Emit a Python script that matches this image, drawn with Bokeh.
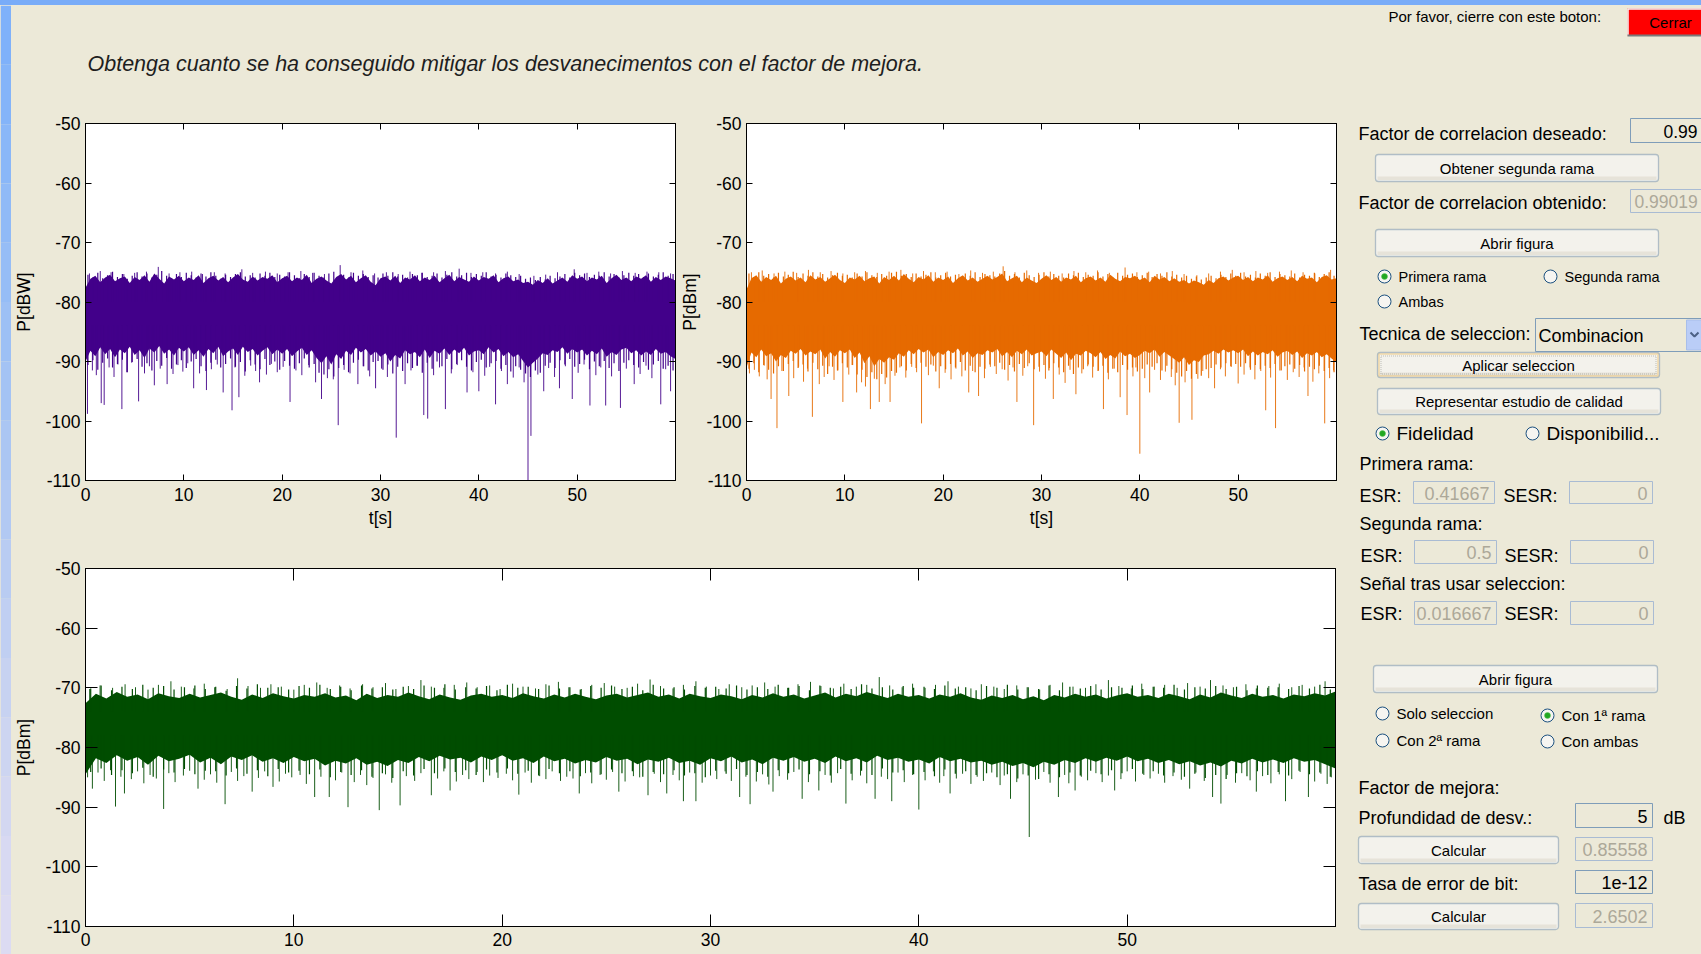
from bokeh.plotting import figure
from bokeh.models import Range1d, FixedTicker, LinearAxis, BoxAnnotation, Div
from bokeh.layouts import row, column
from bokeh.embed import file_html
from bokeh.resources import INLINE
from bokeh.core.properties import value

BG = "#ECE9D8"
FONT = "Liberation Sans"

# ------------------------------------------------------------------ data
x_ticks = [0, 10, 20, 30, 40, 50]
y_ticks = [-110, -100, -90, -80, -70, -60, -50]
t_env = [i / 2 for i in range(121)]          # envelope sample instants, s
t_hair = [0.25 + i / 2 for i in range(120)]  # short fades/peaks between envelope samples, s

# first branch (purple), P[dBW]: upper edge and lower edge of the dense band
purple_top = [-77.6, -76.1, -75.6, -76.7, -75.9, -75.4, -76.5, -76.0, -75.7, -76.8,
              -75.8, -76.3, -75.5, -76.6, -75.2, -76.1, -76.9, -75.7, -76.2, -75.6,
              -76.5, -75.9, -76.3, -75.5, -76.8, -76.0, -75.6, -76.4, -75.8, -76.7,
              -75.9, -75.3, -76.2, -76.6, -75.7, -76.4, -75.8, -76.1, -75.5, -76.7,
              -76.0, -75.6, -76.5, -75.9, -76.3, -75.4, -76.8, -76.1, -75.7, -76.4,
              -76.9, -75.8, -75.3, -76.2, -75.6, -76.7, -76.0, -75.5, -76.6, -77.2,
              -76.0, -75.7, -76.4, -75.6, -76.8, -75.9, -76.2, -75.5, -76.5, -75.9,
              -76.3, -75.6, -76.7, -76.0, -75.4, -76.5, -75.8, -76.2, -76.6, -75.7,
              -76.4, -75.8, -76.1, -75.5, -76.7, -76.0, -75.7, -76.5, -76.2, -76.8,
              -76.6, -77.1, -76.3, -76.8, -76.0, -76.9, -76.4, -75.9, -76.6, -75.5,
              -76.1, -75.7, -76.5, -75.9, -76.2, -75.6, -76.8, -76.0, -75.4, -76.3,
              -75.9, -76.5, -75.7, -76.1, -75.5, -76.6, -75.8, -76.3, -75.7, -76.0,
              -76.4]
purple_core = [-90.0, -88.2, -89.1, -87.6, -88.8, -87.9, -89.3, -88.0, -88.6, -87.5,
               -88.9, -88.1, -89.4, -87.8, -88.5, -87.4, -88.7, -88.0, -89.0, -87.7,
               -88.3, -87.6, -88.9, -88.1, -89.2, -87.9, -88.6, -87.5, -89.1, -88.3,
               -87.8, -88.9, -87.5, -88.4, -87.9, -89.0, -88.2, -87.6, -88.8, -88.0,
               -88.7, -87.9, -89.1, -88.3, -87.7, -88.9, -88.1, -89.4, -90.3, -89.1,
               -90.5, -88.8, -89.6, -88.2, -88.9, -87.7, -88.5, -87.9, -89.0, -88.3,
               -89.2, -88.6, -90.0, -88.9, -89.5, -88.1, -88.8, -88.4, -89.3, -88.0,
               -89.4, -88.2, -88.7, -87.8, -88.9, -88.0, -88.6, -87.7, -89.0, -88.3,
               -88.1, -88.8, -87.6, -88.5, -87.9, -89.1, -88.4, -89.3, -88.8, -89.9,
               -91.0, -90.2, -89.5, -88.6, -88.9, -88.1, -88.4, -87.6, -88.7, -87.9,
               -88.5, -88.0, -89.0, -88.2, -88.8, -87.8, -89.2, -88.4, -88.9, -88.0,
               -87.7, -88.6, -88.1, -89.0, -88.3, -88.9, -87.9, -88.7, -88.4, -89.1,
               -89.6]
purple_hair_up = [-75.4, -75.9, -75.1, -76.0, -75.5, -74.9, -75.8, -75.3, -76.1, -75.6,
                  -75.0, -75.7, -75.2, -75.9, -75.4, -74.8, -75.6, -76.0, -75.3, -75.8,
                  -75.1, -75.5, -75.9, -75.2, -75.7, -75.0, -75.6, -76.1, -75.4, -75.8,
                  -75.3, -75.0, -75.7, -75.5, -75.9, -75.2, -75.6, -75.1, -75.8, -75.4,
                  -75.7, -75.0, -75.5, -76.0, -75.3, -75.8, -75.1, -75.6, -75.9, -75.2,
                  -74.9, -75.7, -75.4, -75.9, -75.1, -75.6, -75.3, -75.8, -75.5, -75.9,
                  -75.2, -75.6, -75.0, -75.7, -75.4, -75.9, -75.3, -75.5, -75.1, -75.8,
                  -75.6, -75.2, -75.9, -75.4, -75.0, -75.7, -75.5, -75.1, -75.8, -75.3,
                  -75.6, -75.0, -75.7, -75.4, -75.9, -75.2, -75.5, -75.8, -75.6, -76.1,
                  -75.9, -76.3, -75.8, -76.2, -75.6, -76.0, -75.7, -75.3, -75.9, -75.1,
                  -75.5, -75.2, -75.8, -75.4, -75.6, -75.0, -75.7, -75.3, -75.9, -75.5,
                  -75.1, -75.6, -75.3, -75.8, -75.2, -75.7, -75.4, -75.0, -75.6, -75.3]
purple_hair_dn = [-90.6, -89.8, -91.4, -90.2, -89.5, -91.0, -90.4, -89.7, -91.8, -90.1,
                  -89.6, -90.9, -90.3, -91.5, -89.9, -90.7, -89.4, -91.2, -90.5, -89.8,
                  -91.1, -90.0, -89.6, -90.8, -91.6, -90.2, -89.7, -91.0, -90.4, -89.5,
                  -90.9, -90.1, -91.7, -89.8, -90.5, -91.3, -89.6, -90.6, -90.0, -91.4,
                  -89.9, -90.7, -91.2, -90.3, -89.5, -91.0, -90.4, -91.9, -92.2, -91.3,
                  -92.5, -91.1, -90.6, -91.8, -90.2, -89.7, -90.8, -91.5, -90.1, -89.9,
                  -91.4, -90.5, -92.0, -90.9, -91.6, -90.3, -91.1, -90.7, -91.9, -90.2,
                  -91.2, -90.0, -90.8, -89.6, -91.3, -90.4, -89.8, -90.9, -91.5, -90.1,
                  -89.7, -91.0, -90.3, -89.9, -91.2, -90.6, -91.7, -90.8, -91.4, -92.0,
                  -92.6, -91.5, -91.9, -90.7, -90.2, -91.1, -89.8, -90.5, -89.6, -90.9,
                  -90.4, -89.7, -91.3, -90.0, -90.8, -89.9, -91.1, -90.3, -91.6, -90.2,
                  -89.8, -90.6, -91.0, -90.1, -91.4, -90.5, -89.9, -91.2, -90.7, -91.5]
purple_peaks = [(0.4, -75.2), (1.5, -74.8), (2.6, -75.0), (3.9, -75.3), (5.0, -75.1), (6.2, -74.9), (7.4, -74.1),
                (8.5, -75.2), (9.6, -75.0), (10.8, -74.9), (11.9, -75.3), (13.1, -75.0), (14.2, -75.2), (15.9, -74.5),
                (17.0, -75.1), (18.3, -74.9), (19.5, -75.2), (20.6, -75.0), (21.9, -74.8), (23.1, -75.1), (24.3, -75.3),
                (25.9, -73.8), (27.0, -75.0), (28.2, -74.7), (29.4, -75.2), (30.6, -75.0), (31.8, -75.3), (33.0, -74.9),
                (34.2, -75.1), (35.4, -75.0), (36.6, -74.8), (38.0, -74.4), (39.2, -75.1), (40.4, -75.0), (41.7, -75.2),
                (42.9, -74.9), (44.1, -75.3), (45.6, -75.6), (46.8, -75.4), (48.0, -75.0), (49.7, -74.5), (51.0, -75.1),
                (52.2, -74.9), (53.4, -75.2), (54.6, -74.8), (55.9, -75.1), (57.1, -74.9), (58.3, -75.0), (59.5, -75.2)]
purple_dips = [(0.2, -98.8), (0.7, -91.5), (1.1, -92.3), (1.6, -97.0), (1.9, -97.3), (2.4, -91.0), (2.9, -92.6),
               (3.3, -90.5), (3.7, -98.0), (4.2, -91.8), (4.7, -90.2), (5.4, -96.7), (6.0, -92.0), (6.5, -90.8),
               (7.0, -94.0), (7.6, -91.2), (8.3, -93.8), (8.9, -92.1), (9.4, -90.6), (9.9, -91.7), (10.4, -90.3),
               (11.0, -94.5), (11.6, -92.0), (12.3, -94.8), (12.8, -91.3), (13.4, -90.5), (14.0, -95.2), (14.9, -98.2),
               (15.2, -91.0), (15.6, -96.0), (16.2, -92.4), (16.8, -90.7), (17.3, -91.6), (17.7, -93.5), (18.4, -92.2),
               (18.9, -90.4), (19.5, -91.8), (20.1, -90.9), (20.8, -96.8), (21.4, -91.5), (22.0, -92.3), (22.7, -90.6),
               (23.4, -93.5), (24.0, -96.3), (24.6, -92.8), (25.2, -93.0), (25.7, -100.7), (26.3, -91.4), (26.9, -92.0),
               (27.7, -93.8), (28.3, -90.8), (28.9, -92.5), (29.5, -94.5), (30.1, -91.2), (30.7, -92.6), (31.6, -102.8),
               (32.5, -93.8), (33.1, -91.5), (33.7, -90.7), (34.4, -99.0), (34.8, -99.6), (35.4, -92.3), (36.0, -91.0),
               (36.6, -98.0), (37.2, -92.0), (37.8, -90.6), (38.8, -95.2), (39.4, -91.8), (40.0, -95.0), (40.6, -92.4),
               (41.1, -90.9), (41.7, -97.2), (42.3, -91.6), (42.9, -93.8), (43.5, -92.7), (44.1, -91.0), (44.6, -93.5),
               (45.0, -110.0), (45.3, -102.5), (46.0, -92.2), (46.6, -95.0), (47.1, -91.1), (47.7, -92.6), (48.2, -94.5),
               (48.8, -90.8), (49.5, -96.3), (50.1, -91.9), (50.7, -90.5), (51.3, -97.4), (51.9, -92.3), (52.4, -91.0),
               (52.9, -97.4), (53.5, -92.5), (54.4, -97.8), (55.0, -91.2), (55.8, -93.8), (56.4, -92.1), (57.0, -90.7),
               (57.6, -92.8), (58.5, -97.2), (59.0, -91.3), (59.5, -95.0)]

# second branch (orange), P[dBm]
orange_top = [-77.9, -76.0, -75.5, -76.6, -75.8, -76.3, -75.6, -76.9, -76.1, -75.7,
              -76.4, -75.9, -76.7, -75.5, -76.2, -75.8, -76.6, -76.0, -75.4, -76.3,
              -76.8, -75.9, -76.2, -75.6, -76.5, -76.0, -75.7, -76.9, -75.8, -76.3,
              -75.6, -76.4, -75.3, -76.1, -76.7, -75.8, -76.2, -75.5, -76.6, -75.9,
              -76.3, -75.7, -76.8, -76.0, -75.5, -76.4, -75.9, -76.6, -76.1, -75.6,
              -76.2, -75.8, -75.2, -76.5, -76.0, -75.6, -76.7, -75.9, -76.4, -76.8,
              -76.1, -75.5, -76.3, -75.8, -76.6, -75.9, -76.2, -75.6, -76.7, -76.0,
              -75.7, -76.4, -75.9, -76.6, -75.4, -76.1, -76.5, -75.8, -76.0, -75.6,
              -76.3, -75.9, -76.7, -75.6, -76.2, -75.8, -76.5, -76.0, -76.6, -76.3,
              -76.9, -76.4, -76.7, -77.1, -76.3, -76.8, -76.0, -75.7, -76.4, -75.9,
              -75.6, -76.3, -75.8, -76.5, -75.9, -76.2, -75.5, -76.6, -76.0, -75.7,
              -76.3, -75.8, -76.5, -75.6, -76.1, -75.9, -76.7, -75.8, -75.5, -76.2,
              -76.0]
orange_core = [-91.0, -88.5, -89.3, -88.0, -89.1, -88.6, -90.0, -88.9, -89.4, -88.2,
               -88.7, -87.9, -89.0, -88.3, -88.8, -88.0, -89.5, -88.4, -89.2, -88.1,
               -88.6, -88.0, -89.4, -88.5, -90.3, -89.1, -90.8, -89.6, -90.2, -89.3,
               -89.7, -88.6, -89.2, -88.1, -88.8, -87.9, -88.5, -88.0, -89.3, -88.4,
               -88.9, -88.1, -88.6, -87.8, -89.0, -88.3, -89.4, -88.6, -88.9, -88.1,
               -88.5, -87.9, -89.1, -88.4, -89.3, -88.2, -88.8, -88.0, -89.0, -88.6,
               -88.3, -89.1, -88.0, -88.7, -89.4, -88.5, -89.8, -88.7, -89.0, -88.2,
               -88.6, -89.3, -88.4, -89.6, -88.9, -89.5, -88.3, -89.1, -88.7, -89.4,
               -88.9, -88.2, -88.6, -88.0, -89.2, -88.4, -89.0, -89.6, -90.2, -89.3,
               -90.6, -89.8, -90.1, -89.0, -88.8, -88.2, -88.7, -88.0, -88.5, -88.1,
               -88.6, -88.0, -89.1, -88.3, -89.0, -88.4, -88.8, -88.1, -89.2, -88.5,
               -88.2, -88.9, -88.3, -89.4, -88.6, -89.0, -88.4, -89.3, -88.8, -89.5,
               -90.2]
orange_hair_up = [-75.2, -75.8, -75.0, -75.6, -75.3, -75.9, -75.1, -75.7, -75.4, -74.9,
                  -75.8, -75.2, -75.6, -75.0, -75.7, -75.3, -75.9, -75.5, -75.1, -75.6,
                  -75.4, -75.9, -75.2, -75.7, -75.0, -75.5, -75.8, -75.3, -75.6, -75.1,
                  -74.9, -75.6, -75.3, -75.8, -75.2, -75.7, -75.4, -75.0, -75.9, -75.5,
                  -75.1, -75.7, -75.4, -75.9, -75.2, -75.6, -75.0, -75.8, -75.3, -75.5,
                  -75.7, -75.2, -74.8, -75.6, -75.3, -75.9, -75.1, -75.5, -75.8, -75.4,
                  -75.0, -75.7, -75.3, -75.6, -75.9, -75.2, -75.5, -75.1, -75.8, -75.4,
                  -75.6, -75.0, -75.7, -75.3, -75.9, -75.1, -75.6, -75.4, -75.2, -75.8,
                  -75.5, -75.1, -75.8, -75.3, -75.6, -75.0, -75.7, -75.4, -75.9, -75.6,
                  -76.1, -75.7, -76.2, -75.9, -75.6, -76.0, -75.4, -75.8, -75.2, -75.6,
                  -75.1, -75.7, -75.4, -75.9, -75.2, -75.6, -75.0, -75.8, -75.3, -75.5,
                  -75.7, -75.2, -75.9, -75.4, -75.6, -75.1, -75.8, -75.3, -75.0, -75.6]
orange_hair_dn = [-91.2, -90.3, -91.8, -90.6, -91.4, -92.0, -90.8, -91.6, -90.4, -89.9,
                  -91.1, -90.5, -91.7, -90.2, -91.3, -90.7, -92.1, -90.9, -91.5, -90.3,
                  -91.0, -90.6, -92.2, -91.4, -92.6, -91.8, -93.0, -92.1, -92.7, -91.6,
                  -91.9, -90.8, -91.5, -90.4, -91.1, -90.2, -90.9, -90.5, -91.7, -90.8,
                  -91.3, -90.4, -91.0, -90.1, -91.5, -90.7, -91.8, -90.9, -91.2, -90.5,
                  -90.8, -90.2, -91.4, -90.6, -91.7, -90.4, -91.1, -90.3, -91.3, -90.9,
                  -90.6, -91.5, -90.3, -91.0, -91.8, -90.7, -92.1, -91.0, -91.3, -90.5,
                  -90.9, -91.6, -90.7, -91.9, -91.2, -91.8, -90.6, -91.4, -91.0, -91.7,
                  -91.2, -90.5, -90.9, -90.3, -91.5, -90.7, -91.3, -91.9, -92.5, -91.6,
                  -92.9, -92.1, -92.4, -91.3, -91.1, -90.5, -91.0, -90.3, -90.8, -90.4,
                  -90.9, -90.3, -91.4, -90.6, -91.3, -90.7, -91.1, -90.4, -91.5, -90.8,
                  -90.5, -91.2, -90.6, -91.7, -90.9, -91.3, -90.7, -91.6, -91.1, -91.8]
orange_peaks = [(0.5, -75.0), (1.6, -74.7), (2.8, -75.2), (3.9, -74.9), (5.1, -75.1), (6.3, -74.6), (7.5, -75.0),
                (8.6, -74.8), (9.8, -75.2), (11.0, -75.0), (12.1, -74.8), (13.3, -75.1), (14.5, -74.9), (15.7, -74.6),
                (16.9, -75.2), (18.0, -74.8), (19.2, -75.0), (20.4, -74.9), (21.6, -75.3), (22.8, -74.7), (24.0, -75.1),
                (25.1, -74.9), (26.1, -74.0), (27.3, -75.0), (28.5, -74.7), (29.7, -75.1), (30.9, -74.9), (32.1, -75.2),
                (33.3, -74.8), (34.5, -75.0), (35.7, -74.7), (36.9, -75.1), (38.5, -74.2), (39.7, -75.0), (40.9, -74.9),
                (42.1, -75.2), (43.3, -74.8), (44.5, -75.3), (45.8, -75.5), (47.0, -75.2), (48.2, -74.9), (49.4, -74.6),
                (50.6, -75.0), (51.8, -74.8), (53.0, -75.1), (54.2, -74.9), (55.4, -74.7), (56.6, -75.0), (57.8, -75.2),
                (59.4, -74.6)]
orange_dips = [(0.3, -92.0), (0.8, -91.4), (1.3, -92.5), (1.8, -90.7), (2.1, -93.0), (2.5, -96.3), (3.1, -101.2),
               (3.6, -91.6), (4.3, -95.8), (4.8, -92.8), (5.3, -90.9), (5.8, -93.4), (6.2, -91.2), (6.7, -99.3),
               (7.4, -93.8), (7.9, -92.6), (8.4, -90.8), (8.9, -93.1), (9.3, -91.5), (9.8, -96.8), (10.4, -92.2),
               (10.8, -90.6), (11.2, -95.2), (11.7, -93.5), (12.1, -94.2), (12.6, -98.0), (13.0, -92.9), (13.5, -96.8),
               (14.1, -93.8), (14.6, -96.8), (15.1, -92.4), (15.6, -91.0), (16.2, -92.7), (16.8, -90.9), (17.3, -91.8),
               (17.8, -100.4), (18.5, -92.3), (19.0, -90.7), (19.6, -94.5), (20.2, -91.9), (20.8, -93.0), (21.3, -91.2),
               (21.9, -92.5), (22.6, -95.2), (23.0, -91.6), (23.6, -95.8), (24.2, -92.8), (24.8, -90.9), (25.4, -92.1),
               (26.0, -91.3), (26.6, -93.2), (27.1, -91.0), (27.5, -96.8), (28.1, -92.4), (28.6, -90.8), (29.2, -100.7),
               (29.8, -91.7), (30.4, -92.9), (30.8, -91.1), (31.2, -96.3), (31.8, -92.2), (32.4, -93.6), (32.9, -91.4),
               (33.5, -95.5), (34.1, -92.0), (34.7, -90.8), (35.2, -92.7), (35.8, -91.5), (36.3, -98.0), (36.8, -93.0),
               (37.4, -91.2), (38.0, -96.0), (38.7, -99.0), (39.3, -92.5), (39.6, -91.0), (40.0, -105.5), (40.5, -92.8),
               (41.0, -95.2), (41.5, -91.4), (42.1, -93.1), (42.6, -91.7), (43.2, -92.6), (43.6, -94.0), (44.0, -100.3),
               (44.6, -93.5), (45.3, -99.8), (45.9, -92.9), (46.4, -91.6), (47.0, -92.8), (47.6, -94.5), (48.2, -91.3),
               (48.7, -92.5), (49.3, -90.9), (50.0, -93.7), (50.6, -92.2), (51.2, -91.0), (51.7, -93.0), (52.3, -91.6),
               (52.8, -98.2), (53.3, -92.7), (53.8, -101.2), (54.4, -91.5), (55.0, -93.1), (55.6, -91.8), (56.2, -92.6),
               (56.7, -91.0), (57.1, -95.8), (57.6, -93.4), (58.2, -92.0), (58.8, -100.4), (59.3, -92.8), (59.7, -91.5)]

# signal after selection (green), P[dBm]
green_top = [-72.6, -71.0, -71.8, -70.7, -71.5, -71.1, -71.9, -70.9, -71.4, -71.7,
             -71.0, -71.6, -71.2, -70.8, -71.5, -72.0, -71.1, -71.7, -70.9, -71.4,
             -71.8, -71.2, -71.5, -70.9, -71.6, -71.3, -72.1, -71.0, -71.7, -71.2,
             -71.5, -70.8, -71.4, -71.9, -71.1, -71.6, -72.0, -71.3, -71.0, -71.5,
             -71.2, -71.7, -70.9, -71.4, -71.8, -71.1, -71.6, -71.0, -71.5, -71.9,
             -71.3, -71.0, -71.6, -71.2, -70.8, -71.5, -71.1, -71.8, -71.0, -71.4,
             -71.7, -71.1, -71.4, -71.9, -71.2, -71.6, -70.9, -71.5, -71.1, -71.8,
             -71.3, -70.8, -71.6, -71.0, -71.4, -70.7, -71.2, -71.7, -71.0, -71.5,
             -71.2, -71.8, -71.1, -71.5, -70.9, -71.6, -72.0, -71.3, -71.7, -71.2,
             -71.9, -71.4, -72.1, -71.2, -71.6, -71.0, -71.5, -71.1, -71.8, -71.3,
             -70.9, -71.5, -71.2, -71.7, -71.0, -71.4, -71.9, -71.1, -71.6, -70.8,
             -71.3, -71.7, -71.0, -71.5, -71.2, -71.8, -71.1, -71.4, -70.9, -71.3,
             -70.6]
green_core = [-84.5, -81.8, -82.6, -81.3, -82.2, -81.6, -82.9, -81.4, -82.3, -81.9,
              -81.2, -82.5, -81.7, -82.8, -81.5, -82.1, -81.3, -82.4, -81.8, -82.6,
              -81.6, -82.3, -81.9, -83.0, -82.2, -82.7, -81.8, -82.9, -82.4, -83.1,
              -82.1, -82.6, -81.6, -82.3, -81.4, -82.0, -81.7, -82.5, -81.5, -82.1,
              -81.3, -82.2, -81.8, -82.6, -81.5, -82.3, -81.9, -82.7, -82.1, -82.5,
              -81.6, -82.2, -81.9, -82.8, -82.0, -82.4, -81.7, -82.6, -82.2, -82.9,
              -81.8, -82.3, -81.5, -82.5, -82.0, -82.8, -81.7, -82.2, -81.6, -82.4,
              -81.9, -82.6, -81.5, -82.3, -81.8, -82.5, -81.4, -82.1, -81.7, -82.4,
              -82.0, -82.7, -81.6, -82.3, -81.9, -82.5, -82.2, -82.9, -82.4, -83.1,
              -82.6, -83.3, -82.4, -82.9, -82.1, -82.6, -81.8, -82.4, -81.7, -82.2,
              -81.5, -82.3, -81.9, -82.6, -82.1, -82.8, -82.3, -83.0, -82.5, -83.2,
              -82.2, -82.7, -81.9, -82.5, -82.0, -82.6, -81.8, -82.4, -82.1, -82.8,
              -83.5]
green_hair_up = [-70.1, -69.6, -70.4, -69.8, -70.2, -69.5, -70.0, -69.7, -70.3, -69.9,
                 -69.6, -70.2, -69.8, -70.5, -69.7, -70.1, -69.4, -70.0, -69.9, -70.3,
                 -69.7, -70.0, -69.5, -70.2, -69.8, -70.4, -69.6, -70.1, -69.9, -70.3,
                 -69.8, -70.2, -69.6, -70.0, -69.4, -70.3, -69.9, -70.1, -69.7, -70.4,
                 -69.5, -70.0, -69.8, -70.2, -69.6, -70.1, -69.9, -70.3, -69.7, -70.0,
                 -69.6, -70.2, -69.8, -70.4, -69.5, -70.1, -69.9, -70.3, -69.7, -70.0,
                 -69.8, -70.1, -69.6, -70.3, -69.9, -70.2, -69.5, -70.0, -69.7, -70.4,
                 -69.6, -70.0, -69.8, -70.2, -69.4, -70.1, -69.9, -70.3, -69.7, -70.0,
                 -69.8, -70.2, -69.6, -70.1, -69.9, -70.4, -69.7, -70.0, -69.5, -70.3,
                 -69.9, -70.2, -69.6, -70.4, -69.8, -70.1, -69.7, -70.3, -69.9, -70.0,
                 -69.6, -70.2, -69.8, -70.0, -69.5, -70.3, -69.9, -70.1, -69.7, -70.2,
                 -69.8, -70.4, -69.6, -70.0, -69.9, -70.2, -69.7, -70.1, -69.5, -70.3]
green_hair_dn = [-84.1, -83.5, -84.6, -83.8, -84.3, -83.4, -84.9, -83.7, -84.2, -83.6,
                 -84.5, -83.9, -84.0, -84.7, -83.5, -84.4, -83.8, -84.8, -83.6, -84.2,
                 -83.9, -84.5, -83.7, -85.0, -84.1, -84.6, -83.8, -84.9, -84.3, -85.1,
                 -84.0, -84.7, -83.6, -84.3, -83.5, -84.1, -83.8, -84.6, -83.7, -84.2,
                 -83.5, -84.4, -83.9, -84.7, -83.6, -84.3, -84.0, -84.8, -84.2, -84.5,
                 -83.7, -84.3, -84.0, -84.9, -84.1, -84.5, -83.8, -84.7, -84.3, -85.0,
                 -83.9, -84.4, -83.6, -84.6, -84.1, -84.9, -83.8, -84.3, -83.7, -84.5,
                 -84.0, -84.7, -83.6, -84.4, -83.9, -84.6, -83.5, -84.2, -83.8, -84.5,
                 -84.1, -84.8, -83.7, -84.4, -84.0, -84.6, -84.3, -85.0, -84.5, -85.2,
                 -84.7, -85.3, -84.5, -85.0, -84.2, -84.7, -83.9, -84.5, -83.8, -84.3,
                 -83.6, -84.4, -84.0, -84.7, -84.2, -84.9, -84.4, -85.1, -84.6, -85.3,
                 -84.3, -84.8, -84.0, -84.6, -84.1, -84.7, -83.9, -84.5, -84.2, -84.9]
green_peaks = [(0.2, -70.2), (0.7, -69.6), (1.3, -70.0), (1.9, -69.4), (2.4, -69.9), (3.0, -70.3), (3.5, -69.5),
               (4.1, -68.9), (4.6, -69.8), (5.2, -70.1), (5.7, -69.3), (6.2, -69.9), (6.8, -70.2), (7.3, -68.4),
               (7.8, -69.7), (8.4, -70.0), (8.9, -69.4), (9.4, -69.8), (10.0, -70.3), (10.5, -69.5), (11.1, -69.1),
               (11.6, -70.0), (12.2, -69.6), (12.7, -70.1), (13.3, -69.4), (13.8, -69.9), (14.4, -69.2), (14.9, -70.2),
               (15.5, -69.7), (16.1, -68.7), (16.6, -69.8), (17.2, -70.0), (17.7, -69.5), (18.3, -69.1), (18.8, -69.9),
               (19.4, -69.6), (19.9, -70.2), (20.5, -69.3), (21.0, -69.8), (21.6, -70.1), (22.1, -69.4), (22.7, -69.0),
               (23.2, -69.9), (23.8, -70.2), (24.3, -69.5), (24.9, -69.2), (25.4, -69.8), (26.0, -70.0), (26.5, -69.3),
               (27.1, -68.6), (27.6, -69.7), (28.2, -70.1), (28.7, -69.5), (29.3, -68.9), (29.8, -69.8), (30.4, -70.2),
               (30.9, -69.4), (31.5, -69.9), (32.0, -69.6), (32.6, -69.1), (33.1, -69.8), (33.7, -70.0), (34.2, -69.4),
               (34.8, -69.0), (35.3, -69.7), (35.9, -70.1), (36.4, -69.3), (37.0, -69.8), (37.5, -69.5), (38.1, -68.2),
               (38.6, -69.6), (39.2, -69.9), (39.7, -69.3), (40.3, -70.0), (40.8, -69.5), (41.4, -68.9), (41.9, -69.8),
               (42.5, -70.1), (43.0, -69.4), (43.6, -69.8), (44.1, -70.2), (44.7, -69.6), (45.2, -69.9), (45.8, -70.3),
               (46.3, -69.5), (46.9, -69.1), (47.4, -69.8), (48.0, -70.0), (48.5, -69.4), (49.1, -68.7), (49.6, -69.7),
               (50.2, -70.1), (50.7, -69.3), (51.3, -69.8), (51.8, -69.5), (52.4, -70.0), (52.9, -69.2), (53.5, -69.8),
               (54.0, -68.7), (54.6, -69.6), (55.1, -69.9), (55.7, -69.4), (56.2, -70.1), (56.8, -69.7), (57.3, -69.3),
               (57.9, -69.9), (58.4, -69.5), (59.0, -69.8), (59.5, -68.9)]
green_dips = [(0.1, -85.0), (0.33, -86.9), (0.6, -84.2), (0.9, -85.6), (1.2, -83.8), (1.44, -89.9), (1.7, -84.9),
              (1.87, -87.7), (2.2, -85.3), (2.5, -84.0), (2.8, -86.0), (3.1, -84.6), (3.4, -85.2), (3.75, -90.3),
              (4.0, -84.3), (4.3, -85.8), (4.7, -84.7), (5.0, -83.9), (5.4, -86.9), (5.7, -85.4), (6.0, -84.5),
              (6.3, -85.9), (6.7, -89.5), (7.0, -84.1), (7.3, -85.6), (7.6, -84.8), (8.0, -87.4), (8.3, -85.1),
              (8.6, -84.0), (9.0, -86.6), (9.3, -85.7), (9.6, -84.4), (9.9, -85.0), (10.3, -84.6), (10.6, -86.1),
              (11.0, -88.3), (11.3, -84.9), (11.7, -88.3), (12.0, -85.5), (12.3, -84.2), (12.6, -90.0), (12.9, -85.8),
              (13.2, -84.6), (13.5, -86.3), (13.8, -85.1), (14.1, -90.5), (14.4, -84.5), (14.7, -85.9), (15.1, -89.7),
              (15.4, -84.8), (15.8, -85.6), (16.1, -84.3), (16.6, -88.0), (16.9, -85.2), (17.2, -84.0), (17.5, -87.2),
              (17.8, -85.7), (18.1, -84.6), (18.4, -85.3), (18.8, -84.1), (19.1, -85.8), (19.4, -84.7), (19.8, -85.1),
              (20.2, -84.4), (20.5, -85.5), (20.8, -87.9), (21.1, -84.2), (21.4, -85.9), (21.8, -84.8), (22.1, -85.3),
              (22.4, -84.0), (22.8, -85.6), (23.1, -84.9), (23.4, -85.2), (23.7, -87.7), (24.0, -84.3), (24.3, -86.0),
              (24.7, -84.6), (25.0, -85.4), (25.3, -84.1), (25.6, -87.4), (25.9, -85.7), (26.3, -84.8), (26.6, -85.0),
              (27.0, -88.0), (27.3, -84.4), (27.6, -85.8), (27.9, -87.7), (28.2, -84.6), (28.5, -85.5), (28.7, -89.0),
              (29.0, -84.2), (29.3, -89.0), (29.6, -85.9), (30.0, -84.7), (30.3, -85.3), (30.7, -84.0), (31.0, -85.6),
              (31.4, -88.3), (31.7, -84.9), (31.9, -89.5), (32.2, -85.7), (32.5, -84.5), (32.8, -86.2), (33.0, -87.4),
              (33.3, -84.8), (33.7, -85.4), (34.0, -84.1), (34.4, -88.6), (34.7, -85.8), (35.2, -87.2), (35.5, -84.6),
              (35.8, -85.9), (36.1, -84.3), (36.5, -89.4), (36.8, -85.5), (37.2, -84.7), (37.5, -86.0), (37.9, -88.6),
              (38.2, -84.9), (38.5, -85.3), (38.7, -89.0), (39.0, -84.2), (39.3, -85.8), (39.7, -84.6), (40.0, -90.4),
              (40.3, -85.5), (40.7, -84.0), (41.0, -85.9), (41.2, -84.8), (41.5, -87.7), (41.8, -85.2), (42.1, -84.4),
              (42.5, -86.1), (42.8, -84.9), (43.1, -85.6), (43.5, -84.2), (43.9, -86.3), (44.1, -84.7), (44.4, -88.6),
              (44.7, -85.8), (45.0, -84.5), (45.3, -95.0), (45.6, -85.4), (46.0, -84.1), (46.3, -85.9), (46.7, -88.3),
              (47.0, -84.6), (47.2, -86.0), (47.5, -87.2), (47.8, -84.9), (48.1, -85.5), (48.5, -84.3), (48.8, -85.8),
              (49.1, -84.7), (49.4, -87.2), (49.7, -85.3), (50.0, -84.0), (50.4, -85.7), (50.8, -84.6), (51.1, -85.2),
              (51.5, -84.4), (51.8, -85.9), (52.2, -84.8), (52.6, -85.4), (53.0, -86.9), (53.3, -84.2), (53.7, -85.6),
              (54.1, -88.3), (54.5, -89.4), (54.8, -84.6), (55.2, -85.9), (55.5, -84.3), (55.9, -85.5), (56.2, -87.4),
              (56.5, -84.8), (56.9, -86.0), (57.3, -84.5), (57.6, -89.0), (57.9, -85.3), (58.3, -84.1), (58.7, -88.3),
              (59.0, -85.7), (59.3, -84.4), (59.6, -86.1), (59.8, -85.0)]

PURPLE = "#42008A"
ORANGE = "#E66A00"
GREEN = "#004D00"


# ------------------------------------------------------------------ helpers
def signal_plot(width, height, mb, ylabel, xlabel, tick_len, xstand, ylab_stand):
    p = figure(width=width, height=height, x_range=Range1d(0, 60), y_range=Range1d(-110, -50),
               output_backend="svg", toolbar_location=None,
               min_border_left=mb[0], min_border_right=mb[1], min_border_top=mb[2], min_border_bottom=mb[3])
    p.grid.visible = False
    p.background_fill_color = "white"
    p.border_fill_color = BG
    p.outline_line_color = "black"
    p.xaxis.ticker = FixedTicker(ticks=x_ticks)
    p.yaxis.ticker = FixedTicker(ticks=y_ticks)
    p.xaxis.major_label_overrides = {v: str(v) for v in x_ticks}
    p.yaxis.major_label_overrides = {v: str(v) for v in y_ticks}
    for ax in (p.xaxis[0], p.yaxis[0]):
        ax.major_tick_in = tick_len
        ax.major_tick_out = 0
        ax.minor_tick_line_color = None
        ax.axis_line_color = "black"
        ax.major_tick_line_color = "black"
        ax.major_label_text_font = FONT
        ax.major_label_text_font_size = "17.5px"
        ax.major_label_text_color = "black"
        ax.axis_label_text_font = FONT
        ax.axis_label_text_font_size = "17.5px"
        ax.axis_label_text_font_style = "normal"
        ax.axis_label_text_color = "black"
    p.xaxis.major_label_standoff = xstand
    p.yaxis.major_label_standoff = 5
    p.yaxis.axis_label = ylabel
    p.yaxis.axis_label_standoff = ylab_stand
    if xlabel:
        p.xaxis.axis_label = xlabel
        p.xaxis.axis_label_standoff = 4
    # mirrored (unlabelled) ticks on the top and right edges of the box
    for loc, ticks in (("above", x_ticks), ("right", y_ticks)):
        ax = LinearAxis(ticker=FixedTicker(ticks=ticks), major_label_overrides={v: "" for v in ticks},
                        major_label_text_font_size="1px",
                        major_tick_in=tick_len, major_tick_out=0, major_label_standoff=0,
                        minor_tick_line_color=None, axis_line_color="black", major_tick_line_color="black")
        p.add_layout(ax, loc)
    return p


def draw_signal(p, color, top, core, hair_up, hair_dn, peaks, dips, up_base, dip_base):
    p.varea(x=t_env, y1=core, y2=top, fill_color=color)
    p.segment(x0=t_hair, y0=up_base, x1=t_hair, y1=hair_up, line_color=color, line_width=1.2)
    p.segment(x0=t_hair, y0=dip_base, x1=t_hair, y1=hair_dn, line_color=color, line_width=1.2)
    pt = [a for a, _ in peaks]
    pv = [b for _, b in peaks]
    p.segment(x0=pt, y0=up_base, x1=pt, y1=pv, line_color=color, line_width=1, line_alpha=0.9)
    dt = [a for a, _ in dips]
    dv = [b for _, b in dips]
    p.segment(x0=dt, y0=dip_base, x1=dt, y1=dv, line_color=color, line_width=1, line_alpha=0.9)


def panel_fig(width, height, xr, yr, **kw):
    p = figure(width=width, height=height, x_range=Range1d(*xr), y_range=Range1d(*yr),
               output_backend="svg", toolbar_location=None, x_axis_type=None, y_axis_type=None,
               min_border=0, **kw)
    p.grid.visible = False
    p.background_fill_color = BG
    p.border_fill_color = BG
    p.outline_line_color = None
    return p


def txt(p, xs, ys, texts, size, color="black", align="left", style="normal"):
    p.text(x=xs, y=ys, text=texts, text_font=value(FONT), text_font_size=value(size),
           text_color=color, text_align=align, text_baseline="middle", text_font_style=style)


# ------------------------------------------------------------------ plots
p1 = signal_plot(665, 440, (74, 1, 18, 65), "P[dBW]", "t[s]", 6, 7, 8)
draw_signal(p1, PURPLE, purple_top, purple_core, purple_hair_up, purple_hair_dn,
            purple_peaks, purple_dips, -80, -84)

p2 = signal_plot(664, 440, (70, 4, 18, 65), "P[dBm]", "t[s]", 6, 7, 3)
draw_signal(p2, ORANGE, orange_top, orange_core, orange_hair_up, orange_hair_dn,
            orange_peaks, orange_dips, -80, -84)

p3 = signal_plot(1329, 409, (74, 5, 23, 28), "P[dBm]", None, 12, 6, 8)
draw_signal(p3, GREEN, green_top, green_core, green_hair_up, green_hair_dn,
            green_peaks, green_dips, -74, -78)

# ------------------------------------------------------------------ window chrome
topbar = Div(text="", width=1701, height=5, margin=0,
             styles={"background-color": "#79ACF8", "overflow": "hidden", "padding": "0"})

strip = panel_fig(11, 949, (0, 11), (954, 5))
strip_cols = ["#7FB1FA", "#84B4F9", "#8AB7F8", "#90BAF7", "#96BDF6", "#9DC0F5", "#A4C3F4", "#ABC6F3",
              "#B2C9F3", "#B9CCF2", "#C0CFF2", "#C7D2F1", "#CDD5F1", "#D3D7F1", "#D8D9F2", "#DCDBF2"]
n = len(strip_cols)
strip.quad(left=[0] * n, right=[11] * n, top=[5 + i * 949 / n for i in range(n)],
           bottom=[5 + (i + 1) * 949 / n for i in range(n)], fill_color=strip_cols, line_color=None)

# title line (frame aligned with the bottom plot's frame)
title_fig = panel_fig(1329, 100, (85, 1335), (105, 5), min_border_left=74, min_border_right=5)
txt(title_fig, [87], [63], ["Obtenga cuanto se ha conseguido mitigar los desvanecimentos con el factor de mejora."],
    "21.5px", color="#1E1E1E", style="italic")

# ------------------------------------------------------------------ GUI panel
gui = panel_fig(361, 949, (1340, 1701), (954, 5))

# close button
gui.quad(left=[1627], right=[1705], top=[8], bottom=[35], fill_color="#FF0000", line_color=None)
gui.line(x=[1627.5, 1627.5, 1705], y=[35, 8.5, 8.5], line_color="#F4F4F4", line_width=1.5)
gui.line(x=[1627, 1705], y=[35, 35], line_color="#7A7A7A", line_width=2)
txt(gui, [1670], [22], ["Cerrar"], "15px", align="center")
txt(gui, [1388], [16], ["Por favor, cierre con este boton:"], "15px")

# push buttons
buttons = [(1375, 1658, 154, 181, "Obtener segunda rama"),
           (1375, 1658, 229, 256, "Abrir figura"),
           (1377, 1659, 352, 377, "Aplicar seleccion"),
           (1377, 1660, 388, 414, "Representar estudio de calidad"),
           (1373, 1657, 665, 692, "Abrir figura"),
           (1358, 1558, 836, 863, "Calcular"),
           (1358, 1558, 903, 929, "Calcular")]
for l, r, t, b, lab in buttons:
    gui.add_layout(BoxAnnotation(left=l, right=r, top=t, bottom=b, fill_color="#F3F2EC", fill_alpha=1,
                                 line_color="#1F4E86", line_width=1.3, border_radius=3, level="underlay"))
    gui.add_layout(BoxAnnotation(left=l + 2, right=r - 2, top=b - 5, bottom=b - 1.5, fill_color="#E2DFD4",
                                 fill_alpha=0.8, line_color=None, level="underlay"))
    if lab == "Aplicar seleccion":
        gui.add_layout(BoxAnnotation(left=l + 1.5, right=r - 1.5, top=t + 1.5, bottom=b - 1.5, fill_color=None,
                                     line_color="#F2B240", line_width=2, level="underlay"))
        gui.add_layout(BoxAnnotation(left=l + 3.5, right=r - 3.5, top=t + 3.5, bottom=b - 3.5, fill_color=None,
                                     line_color="#444444", line_width=1, line_dash="1 1", level="underlay"))
txt(gui, [(l + r) / 2 for l, r, t, b, lab in buttons], [(t + b) / 2 for l, r, t, b, lab in buttons],
    [lab for l, r, t, b, lab in buttons], "15px", align="center")

# static labels
labels = [("Factor de correlacion deseado:", 1358, 133),
          ("Factor de correlacion obtenido:", 1358, 202),
          ("Tecnica de seleccion:", 1359, 333),
          ("Primera rama:", 1359, 463),
          ("ESR:", 1359, 495), ("SESR:", 1503, 495),
          ("Segunda rama:", 1359, 523),
          ("ESR:", 1360, 555), ("SESR:", 1504, 555),
          ("Señal tras usar seleccion:", 1359, 583),
          ("ESR:", 1360, 613), ("SESR:", 1504, 613),
          ("Factor de mejora:", 1358, 787),
          ("Profundidad de desv.:", 1358, 817),
          ("Tasa de error de bit:", 1358, 883),
          ("dB", 1663, 817)]
txt(gui, [x for _, x, _ in labels], [y for _, _, y in labels], [s for s, _, _ in labels], "18px")

# popup menu
gui.quad(left=[1535], right=[1710], top=[318], bottom=[351], fill_color=BG, line_color="#7F9DB9")
gui.quad(left=[1686], right=[1710], top=[319.5], bottom=[349.5], fill_color="#BACDF7", line_color="#A8BEEA")
gui.line(x=[1690, 1694, 1698], y=[332, 336, 332], line_color="#4D6185", line_width=2)
txt(gui, [1538], [335], ["Combinacion"], "18px")

# edit boxes: left, right, top, bottom, text, enabled, left-anchored text x (or None)
boxes = [(1630, 1710, 118, 142, "0.99", True, 1663),
         (1630, 1710, 189, 212, "0.99019", False, 1634),
         (1413, 1494, 481, 503, "0.41667", False, None),
         (1569, 1652, 481, 503, "0", False, None),
         (1414, 1496, 540, 563, "0.5", False, None),
         (1570, 1653, 540, 563, "0", False, None),
         (1414, 1496, 601, 624, "0.016667", False, None),
         (1570, 1653, 601, 624, "0", False, None),
         (1575, 1652, 803, 827, "5", True, None),
         (1575, 1652, 837, 860, "0.85558", False, None),
         (1575, 1652, 870, 893, "1e-12", True, None),
         (1575, 1652, 903, 927, "2.6502", False, None)]
for l, r, t, b, s, en, lx in boxes:
    gui.quad(left=[l], right=[r], top=[t], bottom=[b], fill_color=BG,
             line_color="#7F9DB9" if en else "#A9BBD3", line_width=1)
    col = "black" if en else "#ACA899"
    if lx is None:
        txt(gui, [r - 5], [(t + b) / 2 + 0.5], [s], "18px", color=col, align="right")
    else:
        txt(gui, [lx], [(t + b) / 2 + 0.5], [s], "17.5px", color=col, align="left")

# radio buttons: x, y, label, selected, font size
radios = [(1384, 276, "Primera rama", True, "14.5px"),
          (1550, 276, "Segunda rama", False, "14.5px"),
          (1384, 301, "Ambas", False, "14.5px"),
          (1382, 433, "Fidelidad", True, "19px"),
          (1532, 433, "Disponibilid...", False, "19px"),
          (1382, 713, "Solo seleccion", False, "15px"),
          (1547, 715, "Con 1ª rama", True, "15px"),
          (1382, 740, "Con 2ª rama", False, "15px"),
          (1547, 741, "Con ambas", False, "15px")]
gui.scatter(x=[r[0] for r in radios], y=[r[1] for r in radios], size=13, marker="circle",
            fill_color="#F6F5F1", line_color="#1C5180", line_width=1)
sel = [r for r in radios if r[3]]
gui.scatter(x=[r[0] for r in sel], y=[r[1] for r in sel], size=6, marker="circle",
            fill_color="#22A722", line_color="#5CC55C", line_width=0.5)
for x, y, lab, s, fs in radios:
    txt(gui, [x + 14], [y], [lab], fs)

bgs = {"background-color": BG}
left_col = column(title_fig, row(p1, p2, styles=bgs), p3, styles=bgs)
layout = column(topbar, row(strip, left_col, gui, styles=bgs), styles=bgs)

open("out.html", "w").write(file_html(layout, INLINE))
